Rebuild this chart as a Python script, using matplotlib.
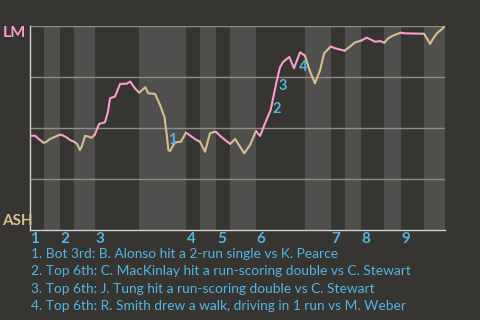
import matplotlib
matplotlib.use('Agg')
import matplotlib.pyplot as plt
import numpy as np

BG = '#373531'
BAND = '#504f4d'
GRID = '#8e8d8a'
AXIS = '#cfcfcf'
PINK = '#fa9dcd'
TAN = '#d8bf8c'
BLUE = '#4fb6e6'
FONT = ['Lato', 'DejaVu Sans']
plt.rcParams['font.family'] = FONT

away, home = 'LM', 'ASH'
# length of each half-inning in sequence units: T1, B1, T2, B2, ...
half_len = [6, 7, 6, 9, 19, 20, 6, 7, 6, 11, 21, 11, 6, 7, 10, 7, 10, 9]
innings = [1, 2, 3, 4, 5, 6, 7, 8, 9]

# win probability for LM (%) within each half-inning
seg_x = [
    [0, 2.4, 4.5, 6],
    [7.1, 8.8, 10.9, 13],
    [13.9, 15.9, 17.4, 19],
    [20.4, 21.6, 22.5, 23.8, 25.2, 26.7, 28],
    [29.8, 32.3, 33.6, 34.5, 36.6, 38.8, 41.6, 43.1, 45.2, 47],
    [49.6, 50.9, 53.8, 55.9, 57.8, 58.8, 59.5, 60.2, 61.6, 62.6, 64.9, 67],
    [67.9, 69.5, 71.6, 73],
    [75.2, 77.3, 79.5, 80],
    [81.6, 83.8, 86],
    [88.1, 90.2, 92.0, 94.5, 97],
    [98.8, 100.9, 103.3, 105.9, 107.3, 108.7, 111.3, 113.3, 115.9, 118],
    [118.8, 120.2, 122.3, 124.5, 126.2, 129],
    [130.9, 135],
    [137.3, 139.5, 142],
    [144.5, 145.9, 148.0, 150.2, 152],
    [153.7, 155.9, 159],
    [160.9, 169],
    [170.2, 171.6, 173, 174.5, 176.6, 178],
]
seg_wp = [
    [46.2, 46.2, 44.1, 42.8],
    [43.1, 44.6, 45.7, 46.7],
    [46.6, 45.4, 44.1, 43.3],
    [42.2, 39.2, 41.2, 46.2, 45.8, 45.2, 46.8],
    [52.0, 52.8, 57.8, 64.6, 65.4, 71.6, 71.7, 72.8, 69.4, 67.3],
    [70.0, 67.0, 66.7, 61.3, 55.5, 46.6, 39.2, 38.7, 41.7, 43.0, 43.3, 47.7],
    [47.1, 45.7, 44.1, 43.3],
    [38.4, 47.4, 48.2, 48.0],
    [46.2, 44.1, 42.2],
    [44.6, 40.8, 37.6, 41.7, 48.5],
    [46.1, 52.3, 58.8, 73.0, 79.7, 82.5, 84.8, 79.3, 87.1, 85.5],
    [82.5, 77.6, 71.9, 78.4, 86.6, 89.9],
    [89.1, 87.9],
    [89.9, 92.0, 92.8],
    [94.3, 93.5, 92.3, 92.6, 91.8],
    [94.0, 95.4, 96.7],
    [96.4, 96.2],
    [94.0, 91.2, 94.0, 96.4, 98.4, 100.0],
]

event_x = [61.3, 106.0, 108.6, 117.2]
event_wp = [44.1, 59.3, 70.6, 79.9]
event_text = [
    "1. Bot 3rd: B. Alonso hit a 2-run single vs K. Pearce",
    "2. Top 6th: C. MacKinlay hit a run-scoring double vs C. Stewart",
    "3. Top 6th: J. Tung hit a run-scoring double vs C. Stewart",
    "4. Top 6th: R. Smith drew a walk, driving in 1 run vs M. Weber",
]

W, H = 480, 320
fig = plt.figure(figsize=(W / 100, H / 100), dpi=100, facecolor=BG)
L, R, T, B = 29.5, 445, 26, 230
ax = fig.add_axes([L / W, 1 - B / H, (R - L) / W, (B - T) / H])
ax.set_facecolor(BG)

bounds = np.concatenate([[0], np.cumsum(half_len)])
ax.set_xlim(0, bounds[-1])
ax.set_ylim(0, 100)

for i in range(len(half_len)):
    if i % 2 == 1:
        ax.axvspan(bounds[i], bounds[i + 1], color=BAND, lw=0, zorder=0)

for g in [25, 50, 75, 100]:
    ax.axhline(g, color=GRID, lw=1.0, zorder=1)

for s in ['top', 'right']:
    ax.spines[s].set_visible(False)
for s in ['left', 'bottom']:
    ax.spines[s].set_color(AXIS)
    ax.spines[s].set_linewidth(1.0)
    ax.spines[s].set_zorder(2)
ax.set_xticks([])
ax.set_yticks([])

prev = None
for i, (xs, ws) in enumerate(zip(seg_x, seg_wp)):
    xx = list(xs)
    yy = list(ws)
    if prev is not None:
        xx = [prev[0]] + xx
        yy = [prev[1]] + yy
    ax.plot(xx, yy, color=PINK if i % 2 == 0 else TAN, lw=1.5,
            solid_joinstyle='round', solid_capstyle='round', zorder=3)
    prev = (xs[-1], ws[-1])

for k, (ex, ew) in enumerate(zip(event_x, event_wp)):
    ax.text(ex, ew, str(k + 1), color=BLUE, fontsize=10.5, fontweight='bold',
            ha='center', va='center', zorder=4)

for j, inn in enumerate(innings):
    ax.annotate(str(inn), xy=(bounds[2 * j], 0), xycoords='data',
                xytext=(0.5, -1.5), textcoords='offset points',
                ha='left', va='top', color=BLUE, fontsize=11,
                fontweight='bold', annotation_clip=False)

fig.text(2.5 / W, 1 - 33 / H, away, color=PINK, fontsize=11.5,
         fontweight='bold', ha='left', va='center')
fig.text(2.5 / W, 1 - 221 / H, home, color=TAN, fontsize=11,
         fontweight='bold', ha='left', va='center')

ys = [254, 271.3, 288.7, 306]
texts = []
for t, y in zip(event_text, ys):
    texts.append(fig.text(31 / W, 1 - y / H, t, color=BLUE, fontsize=10,
                          ha='left', va='center'))
fig.canvas.draw()
r = fig.canvas.get_renderer()
wdt = texts[1].get_window_extent(r).width
scale = 381 / wdt
for t in texts:
    t.set_fontsize(10 * scale)

fig.savefig('out.png', dpi=100, facecolor=BG)
